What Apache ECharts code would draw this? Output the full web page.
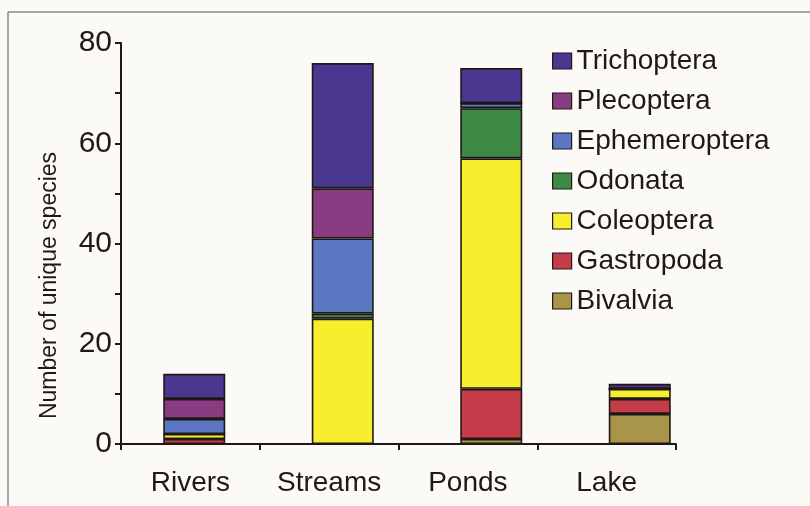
<!DOCTYPE html>
<html>
<head>
<meta charset="utf-8">
<script src="https://cdn.jsdelivr.net/npm/echarts@6/dist/echarts.min.js"></script>
<style>
  html, body { margin: 0; padding: 0; background: #fbfaf7; }
  #chart { width: 810px; height: 506px; }
</style>
</head>
<body>
<div id="chart"></div>
<script>
var habitats = ['Rivers', 'Streams', 'Ponds', 'Lake'];
var yTicks = [0, 20, 40, 60, 80];

/* stacked from the bottom up */
var bivalvia      = [0, 0, 1, 6];
var gastropoda    = [1, 0, 10, 3];
var coleoptera    = [1, 25, 46, 2];
var odonata       = [0, 1, 10, 0];
var ephemeroptera = [3, 15, 1, 0];
var plecoptera    = [4, 10, 0, 0];
var trichoptera   = [5, 25, 7, 1];

var groups = [
    {name: 'Bivalvia',      data: bivalvia,      color: '#a8954a'},
    {name: 'Gastropoda',    data: gastropoda,    color: '#c53c4a'},
    {name: 'Coleoptera',    data: coleoptera,    color: '#f7ef2e'},
    {name: 'Odonata',       data: odonata,       color: '#3e8a45'},
    {name: 'Ephemeroptera', data: ephemeroptera, color: '#5b77c2'},
    {name: 'Plecoptera',    data: plecoptera,    color: '#8a3c82'},
    {name: 'Trichoptera',   data: trichoptera,   color: '#4a3890'}
];

var ink = '#1f1816';
var font = 'Liberation Sans, Arial, sans-serif';

var myChart = echarts.init(document.getElementById('chart'));

/* in the figure the bars sit on a slightly wider spacing than the labels,
   so the bars get their own (hidden) grid */
var seriesArr = [];
for (var i = 0; i < groups.length; i++) {
    seriesArr.push({
        name: groups[i].name,
        type: 'bar',
        stack: 'all',
        xAxisIndex: 1,
        yAxisIndex: 1,
        barWidth: 62,
        data: groups[i].data,
        itemStyle: {color: groups[i].color, borderColor: ink, borderWidth: 1.6}
    });
}

var option = {
    backgroundColor: '#fbfaf7',
    animation: false,
    textStyle: {fontFamily: font},
    /* scanned frame round the figure */
    graphic: [
        {type: 'line', shape: {x1: 8, y1: 12, x2: 810, y2: 12}, style: {stroke: '#8a8a8a', lineWidth: 1.5}},
        {type: 'line', shape: {x1: 8, y1: 12, x2: 8, y2: 506}, style: {stroke: '#8a8a8a', lineWidth: 1.5}}
    ],
    grid: [
        {left: 121, right: 134, top: 43, bottom: 62},
        {left: 120, right: 96, top: 43, bottom: 62}
    ],
    legend: {
        data: groups.map(function (g) { return g.name; }).reverse(),
        orient: 'vertical',
        left: 547,
        top: 42,
        itemWidth: 19,
        itemHeight: 16,
        itemGap: 12,
        itemTextGap: 19,
        icon: 'rect',
        itemStyle: {borderColor: ink, borderWidth: 1.2},
        textStyle: {fontSize: 28, lineHeight: 28, color: ink, fontFamily: font}
    },
    xAxis: [
        {
            type: 'category',
            gridIndex: 0,
            data: habitats,
            axisLine: {lineStyle: {color: ink, width: 2}},
            axisTick: {show: true, length: 6, lineStyle: {color: ink, width: 2}},
            axisLabel: {fontSize: 28, color: ink, margin: 25, fontFamily: font}
        },
        {
            type: 'category',
            gridIndex: 1,
            data: habitats,
            show: false
        }
    ],
    yAxis: [
        {
            type: 'value',
            gridIndex: 0,
            min: yTicks[0],
            max: yTicks[yTicks.length - 1],
            interval: 20,
            name: 'Number of unique species',
            nameLocation: 'middle',
            nameGap: 60,
            nameTextStyle: {fontSize: 23, color: ink, fontFamily: font, padding: [0, 84, 0, 0]},
            axisLine: {show: true, lineStyle: {color: ink, width: 2}},
            axisTick: {show: true, length: 6, lineStyle: {color: ink, width: 2}},
            minorTick: {show: true, splitNumber: 2, length: 6, lineStyle: {color: ink, width: 2}},
            splitLine: {show: false},
            axisLabel: {fontSize: 30, color: ink, margin: 9, fontFamily: font}
        },
        {
            type: 'value',
            gridIndex: 1,
            min: yTicks[0],
            max: yTicks[yTicks.length - 1],
            interval: 20,
            show: false,
            splitLine: {show: false}
        }
    ],
    series: seriesArr
};

myChart.setOption(option);
</script>
</body>
</html>
